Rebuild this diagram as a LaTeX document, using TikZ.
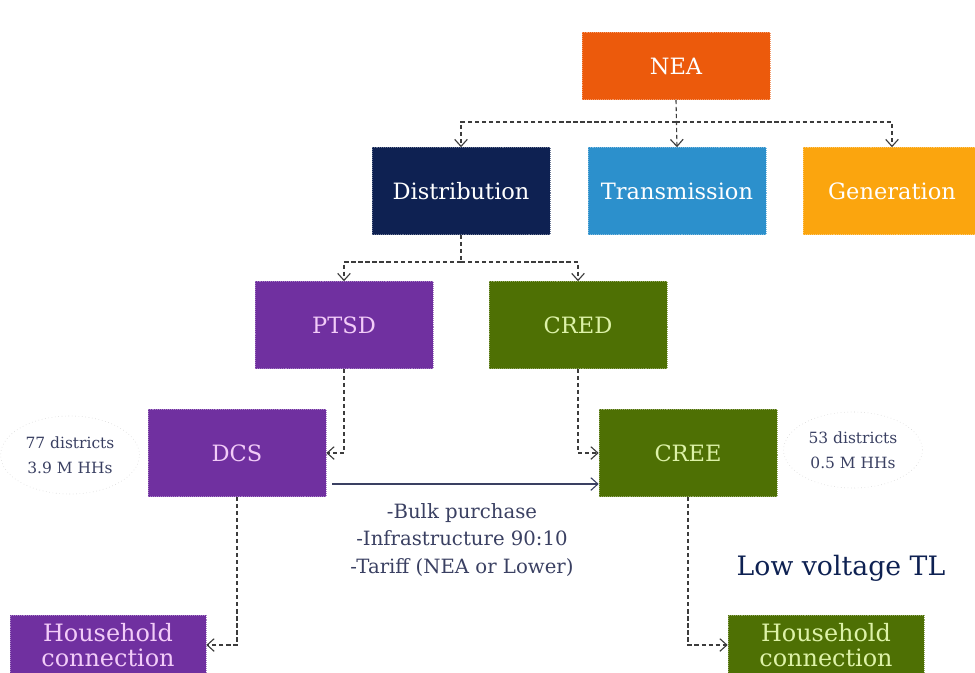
\documentclass[tikz,border=0pt]{standalone}
\usepackage{fontspec}
\setmainfont{DejaVu Serif}
\usepackage{tikz}
\usetikzlibrary{arrows.meta,shapes.geometric}

\definecolor{neaorange}{HTML}{EC5A0C}
\definecolor{distnavy}{HTML}{0E2152}
\definecolor{transblue}{HTML}{2C90CC}
\definecolor{genorange}{HTML}{FBA50E}
\definecolor{ptsdpurple}{HTML}{7030A0}
\definecolor{credgreen}{HTML}{4E7004}
\definecolor{pinktext}{HTML}{F2CCF8}
\definecolor{greentext}{HTML}{DDF2A8}
\definecolor{notetext}{HTML}{3A4062}
\definecolor{linkgray}{HTML}{3C3C3C}

\begin{document}
\begin{tikzpicture}[x=0.025cm, y=-0.025cm,
    unit/.style={minimum width=4.45cm, minimum height=2.175cm, inner sep=2pt,
        fill=#1, draw=#1!60!white, densely dotted,
        font=\fontsize{16}{19}\selectfont},
    house/.style={unit=#1, minimum width=4.9cm, minimum height=1.5cm, inner sep=1pt,
        align=center, font=\fontsize{17}{18}\selectfont},
    note/.style={ellipse, draw=gray!35, dotted, text=notetext, align=center,
        font=\fontsize{11}{18}\selectfont},
    link/.style={draw=linkgray, densely dashed, thick, -{Straight Barb[length=5pt,width=9pt]}},
    bulk/.style={draw=notetext, thick, -{Straight Barb[length=5pt,width=9pt]}}]
            \useasboundingbox (0,0) rectangle (975,672);

            % Top level
            \node[unit=neaorange, text=white, minimum width=4.7cm, minimum height=1.675cm] (nea) at (676,66) {NEA};
            \node[unit=distnavy, text=white] (dist) at (461,191) {Distribution};
            \node[unit=transblue, text=white] (trans) at (677,191) {Transmission};
            \node[unit=genorange, text=white] (gen) at (892,191) {Generation};

            % Distribution branches
            \node[unit=ptsdpurple, text=pinktext] (ptsd) at (344,325) {PTSD};
            \node[unit=credgreen, text=greentext] (cred) at (578,325) {CRED};
            \node[unit=ptsdpurple, text=pinktext] (dcs) at (237,453) {DCS};
            \node[unit=credgreen, text=greentext] (cree) at (688,453) {CREE};

            % Households
            \node[house=ptsdpurple, text=pinktext] (hhdcs) at (108,645) {Household\\connection};
            \node[house=credgreen, text=greentext] (hhcree) at (826,645) {Household\\connection};

            % Notes
            \node[note, minimum width=3cm, minimum height=1.95cm] (dcsnote) at (70,455) {77 districts\\3.9 M HHs};
            \node[note, minimum width=3.4cm, minimum height=1.9cm] (creenote) at (853,450) {53 districts\\0.5 M HHs};
            \node[align=center, text=notetext, font=\fontsize{14}{19.5}\selectfont] (terms) at (462,540)
                {-Bulk purchase\\-Infrastructure 90:10\\-Tariff (NEA or Lower)};
            \node[text=distnavy, font=\fontsize{19}{22}\selectfont] (lowtl) at (841,568) {Low voltage TL};

            % Connectors
            \coordinate (neasplit) at (676,122);
            \coordinate (distsplit) at (461,262);
            \draw[link] (nea.south) -- (trans.north);
            \draw[link] (neasplit) -| (dist.north);
            \draw[link] (neasplit) -| (gen.north);
            \draw[draw=linkgray, densely dashed, thick] (dist.south) -- (distsplit);
            \draw[link] (distsplit) -| (ptsd.north);
            \draw[link] (distsplit) -| (cred.north);
            \draw[link] (ptsd.south) |- (dcs.east);
            \draw[link] (cred.south) |- (cree.west);
            \draw[bulk] ([xshift=0.15cm, yshift=-0.775cm]dcs.east) -- ([yshift=-0.775cm]cree.west);
            \draw[link] (dcs.south) |- (hhdcs.east);
            \draw[link] (cree.south) |- (hhcree.west);
        \end{tikzpicture}
\end{document}
